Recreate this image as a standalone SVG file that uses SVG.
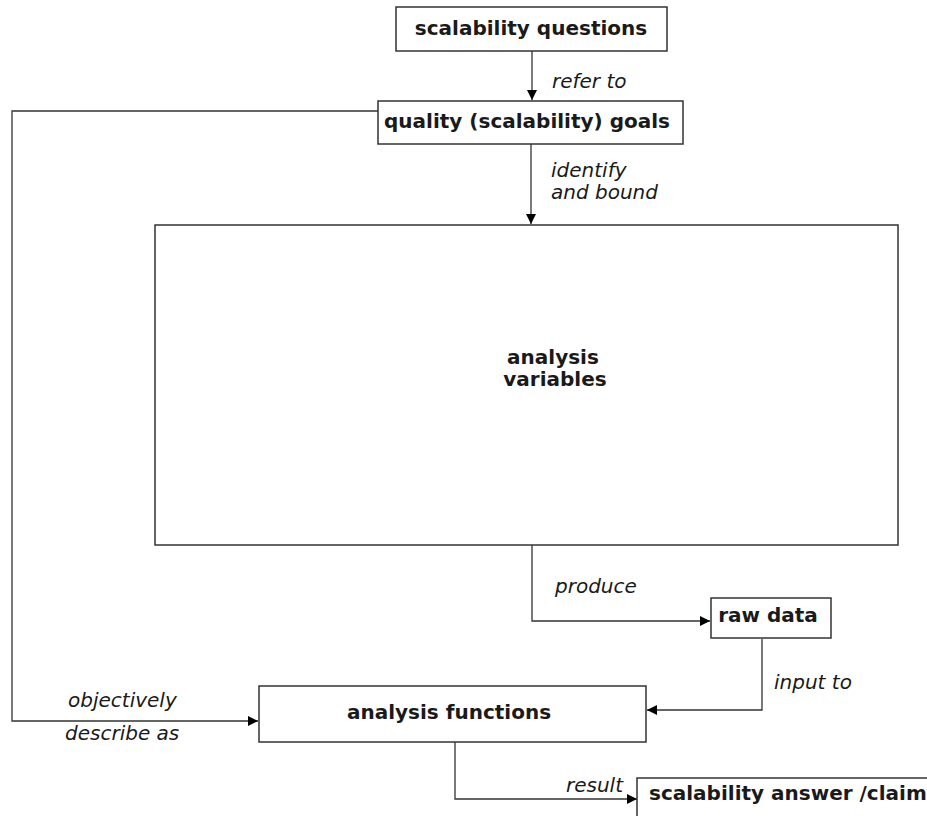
<svg xmlns="http://www.w3.org/2000/svg" width="927" height="816" viewBox="0 0 927 816">
  <style>
    .box { fill: #ffffff; stroke: #333333; stroke-width: 1.5; }
    .node-text { font-family: "DejaVu Sans", "Liberation Sans", sans-serif; font-weight: bold; font-size: 20px; fill: #1a1a1a; }
    .label { font-family: "DejaVu Sans", "Liberation Sans", sans-serif; font-style: italic; font-size: 20px; fill: #1a1a1a; }
    .edge { fill: none; stroke: #333333; stroke-width: 1.3; }
  </style>
  <defs>
    <marker id="arrow" viewBox="0 0 10 10" refX="10" refY="5" markerWidth="10" markerHeight="10" markerUnits="userSpaceOnUse" orient="auto">
      <path d="M0,0 L10,5 L0,10 Z" fill="#000000"/>
    </marker>
  </defs>
  <rect width="927" height="816" fill="#ffffff"/>

  <g id="connectors">
    <path class="edge" d="M532,51 V100" marker-end="url(#arrow)"/>
    <path class="edge" d="M531,144 V224" marker-end="url(#arrow)"/>
    <path class="edge" d="M532,545 V621 H710" marker-end="url(#arrow)"/>
    <path class="edge" d="M762,639 V710 H647" marker-end="url(#arrow)"/>
    <path class="edge" d="M378,111 H12 V721 H258" marker-end="url(#arrow)"/>
    <path class="edge" d="M455,742 V799 H637" marker-end="url(#arrow)"/>
    <text class="label" x="552" y="88">refer to</text>
    <text class="label" x="551" y="177">identify</text>
    <text class="label" x="551" y="199">and bound</text>
    <text class="label" x="555" y="593">produce</text>
    <text class="label" x="774" y="689">input to</text>
    <text class="label" x="68" y="707">objectively</text>
    <text class="label" x="65" y="740">describe as</text>
    <text class="label" x="566" y="792">result</text>
  </g>

  <g id="scalability-questions">
    <rect class="box" x="396" y="7" width="271" height="44"/>
    <text class="node-text" x="531" y="35" text-anchor="middle">scalability questions</text>
  </g>
  <g id="quality-goals">
    <rect class="box" x="378" y="101" width="305" height="43"/>
    <text class="node-text" x="527" y="128" text-anchor="middle">quality (scalability) goals</text>
  </g>
  <g id="analysis-variables">
    <rect class="box" x="155" y="225" width="743" height="320"/>
    <text class="node-text" x="553" y="364" text-anchor="middle">analysis</text>
    <text class="node-text" x="555" y="386" text-anchor="middle">variables</text>
  </g>
  <g id="raw-data">
    <rect class="box" x="711" y="598" width="120" height="40"/>
    <text class="node-text" x="768" y="622" text-anchor="middle">raw data</text>
  </g>
  <g id="analysis-functions">
    <rect class="box" x="259" y="686" width="387" height="56"/>
    <text class="node-text" x="449" y="719" text-anchor="middle">analysis functions</text>
  </g>
  <g id="scalability-answer">
    <rect class="box" x="637" y="778" width="310" height="60"/>
    <text class="node-text" x="649" y="800">scalability answer /claim</text>
  </g>
</svg>
